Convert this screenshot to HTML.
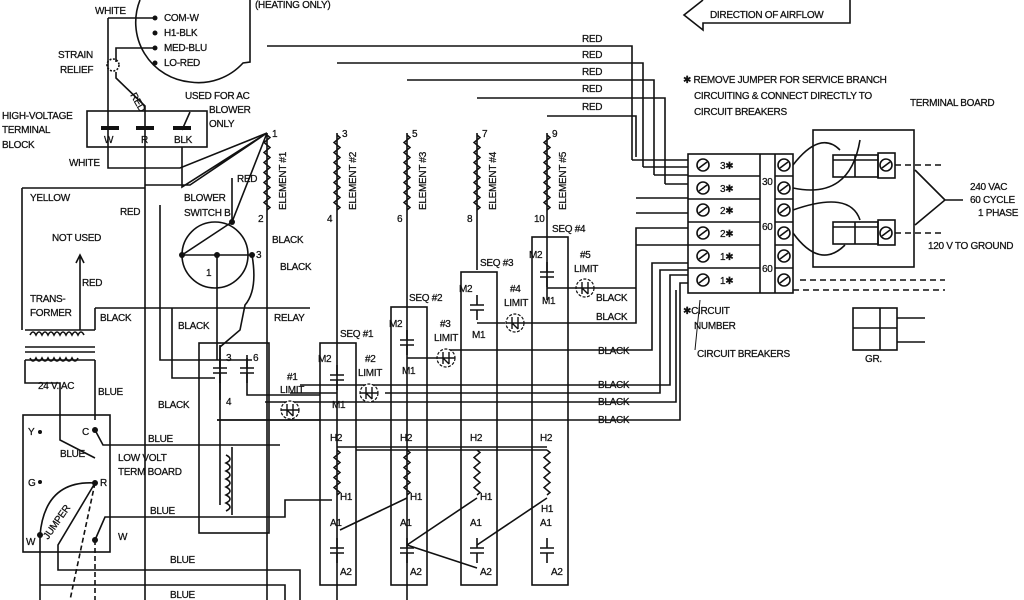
<!DOCTYPE html>
<html><head><meta charset="utf-8"><style>
html,body{margin:0;padding:0;background:#fff;width:1024px;height:600px;overflow:hidden}
svg{display:block}
text{font-family:"Liberation Sans",sans-serif;font-size:10px;fill:#111;letter-spacing:-0.3px;stroke:#111;stroke-width:0.25}
</style></head><body>
<svg width="1024" height="600" viewBox="0 0 1024 600" xmlns="http://www.w3.org/2000/svg">
<defs>
<path id="zz" d="M0 0 l3 2.5 l-6 5 l6 5 l-6 5 l6 5 l-6 5 l6 5 l-6 5 l6 5 l-6 5 l6 5 l-6 5 l6 5 l-6 5 l6 5 l-3 2.5" fill="none" stroke="#111" stroke-width="1.5"/>
<path id="zs" d="M0 0 l3 2.5 l-6 5 l6 5 l-6 5 l6 5 l-6 5 l6 5 l-6 5 l6 5 l-3 2.5" fill="none" stroke="#111" stroke-width="1.5"/>
<g id="lim"><circle r="9" fill="#fff" stroke="#111" stroke-width="1.2" stroke-dasharray="3 1.5"/><path d="M-9 0 h18 M-3 -6 v12 M3 -6 v12 M-3 0 l6 6" stroke="#111" stroke-width="1.4" fill="none"/></g>
<g id="cap"><path d="M-7 0 h14 M-7 5 h14 M0 -10 v10 M0 5 v10" stroke="#111" stroke-width="1.6" fill="none"/></g>
<g id="scr"><circle r="6" fill="#fff" stroke="#111" stroke-width="1.6"/><path d="M-4 3 l8 -6" stroke="#111" stroke-width="1.6"/></g>
</defs>
<g fill="none" stroke="#111" stroke-width="1.6">
<path d="M140 0 A60 60 0 0 0 190 82 A60 60 0 0 0 243 63 L250 62 V0"/>
<path d="M108 18 H155 M108 18 V168 H180 L267 133"/>
<path d="M155 48 H116 V62"/>
<circle cx="113" cy="65" r="6" stroke-dasharray="2 1.5"/>
<path d="M116 72 V78 L145 106 V600"/>
<rect x="87" y="111" width="120" height="36"/>
<path d="M182 147 V187 L267 133 M145 185 H190 L267 133 M182 130 L190 112"/>
<path d="M22 188 H145 M22 188 V330"/>
<path d="M232 222 L267 133 M232 222 V178"/>
<circle cx="215" cy="255" r="33"/>
<path d="M182 255 H252 M217 255 V360 M182 255 L232 222"/>
<path d="M252 255 Q258 290 245 305 L240 330 L220 347 V400"/>
<path d="M267 133 V600"/>
<path d="M160 205 V360 H252 M95 308 H310 M172 308 V378 H215"/>
<path d="M80 255 V330 M76 263 L80 255 L84 263"/>
<path d="M25 330 H95 M25 347 H95 M25 352 H95 M25 360 H95 M25 360 V383 H60 V440 L95 458 M95 360 V420 M95 330 V308"/>
<path d="M30 335 q3 -6 6 0 q3 -6 6 0 q3 -6 6 0 q3 -6 6 0 q3 -6 6 0 q3 -6 6 0 q3 -6 6 0 q3 -6 6 0 q3 -6 6 0"/>
<path d="M30 358 q3 6 6 0 q3 6 6 0 q3 6 6 0 q3 6 6 0 q3 6 6 0 q3 6 6 0 q3 6 6 0 q3 6 6 0"/>
<rect x="23" y="415" width="87" height="137"/>
<path d="M95 430 L103 445 H280 M95 540 L105 517 H285 V500 H332 M40 535 V600 M40 535 Q45 480 95 483 M95 483 L58 545 V570 H300 V600 M40 585 H285 V600"/>
<path d="M95 483 L70 600 M95 540 V600" stroke-dasharray="5 3"/>
<rect x="199" y="343" width="70" height="190"/>
<path d="M220 345 V505 M232 447 V515 M247 355 V395 H320"/>
<path d="M226 455 q8 4 0 8 q8 4 0 8 q8 4 0 8 q8 4 0 8 q8 4 0 8 q8 4 0 8 q8 4 0 8"/>
<path d="M217 420 H320"/>
<path d="M267 46 H632 V160 M337 63 H643 V167 M407 80 H654 V175 M477 98 H665 V184 M547 116 H636 V157"/>
<path d="M337 133 V600 M407 133 V600 M477 133 V270 M547 133 V300"/>
<rect x="320" y="343" width="36" height="242"/>
<rect x="391" y="307" width="36" height="278"/>
<rect x="461" y="272" width="36" height="313"/>
<rect x="532" y="237" width="36" height="348"/>
<path d="M337 393 H290 M407 358 H437 M477 323 H505 M547 288 H577"/>
<path d="M590 288 H636 V228 H688 M520 323 H636 V245 H688 M450 350 H652 V263 H688 M385 393 H660 V270 H688 M300 385 H670 V275 H688 M217 420 H680 V283 H688 M300 402 H676 V290 M356 450 H547 M265 402 H320"/>
<path d="M632 160 H688 M643 167 H688 M654 175 H688 M665 184 H688 M636 198 H688 M636 213 H688"/>
<path d="M337 447 H547 M340 530 L407 498 M407 545 L477 568 M407 545 L477 498 M477 545 L547 498"/>
<rect x="688" y="154" width="105" height="139"/>
<path d="M688 176 H760 M688 199 H760 M688 222 H760 M688 245 H760 M688 268 H760 M760 154 V293 M775 154 V293 M775 176 H793 M775 199 H793 M775 222 H793 M775 245 H793 M775 268 H793"/>
<rect x="813" y="130" width="101" height="137"/>
<rect x="833" y="155" width="45" height="22"/><path d="M833 160 H878 M855 155 V177"/>
<rect x="878" y="153" width="17" height="25"/>
<rect x="833" y="222" width="45" height="22"/><path d="M833 227 H878 M855 222 V244"/>
<rect x="878" y="220" width="17" height="25"/>
<path d="M793 165 Q820 130 840 150 M793 188 Q850 200 860 140 M793 210 Q850 190 860 220 M793 233 Q820 270 845 245"/>
<path d="M895 165 H945 M895 233 H945 M793 290 H945 M800 280 H945" stroke-dasharray="6 4"/>
<path d="M915 170 L945 200 L915 225 M945 200 H963"/>
<rect x="853" y="308" width="44" height="42"/><path d="M853 328 H897 M880 308 V350 M897 318 H925 M897 342 H925"/>
<path d="M700 300 L695 350" stroke-width="1"/>
<path d="M703 0 L684 15 L703 30 V23 H850 V0"/>
</g>
<use href="#zz" x="267" y="135"/><use href="#zz" x="337" y="135"/><use href="#zz" x="407" y="135"/><use href="#zz" x="477" y="135"/><use href="#zz" x="547" y="135"/>
<use href="#zs" x="337" y="450"/><use href="#zs" x="407" y="450"/><use href="#zs" x="477" y="450"/><use href="#zs" x="547" y="450"/>
<use href="#lim" x="290" y="410"/><use href="#lim" x="369" y="393"/><use href="#lim" x="446" y="358"/><use href="#lim" x="515" y="323"/><use href="#lim" x="585" y="288"/>
<use href="#cap" x="337" y="375"/><use href="#cap" x="407" y="340"/><use href="#cap" x="477" y="305"/><use href="#cap" x="547" y="272"/>
<use href="#cap" x="337" y="548"/><use href="#cap" x="407" y="548"/><use href="#cap" x="477" y="548"/><use href="#cap" x="547" y="548"/>
<use href="#cap" x="220" y="368"/><use href="#cap" x="247" y="368"/>
<use href="#scr" x="703" y="165"/><use href="#scr" x="703" y="188"/><use href="#scr" x="703" y="210"/><use href="#scr" x="703" y="233"/><use href="#scr" x="703" y="256"/><use href="#scr" x="703" y="280"/>
<use href="#scr" x="784" y="165"/><use href="#scr" x="784" y="188"/><use href="#scr" x="784" y="210"/><use href="#scr" x="784" y="233"/><use href="#scr" x="784" y="256"/><use href="#scr" x="784" y="280"/>
<use href="#scr" x="886" y="165"/><use href="#scr" x="886" y="233"/>
<g fill="#111"><circle cx="155" cy="18" r="2.5"/><circle cx="155" cy="33" r="2.5"/><circle cx="155" cy="48" r="2.5"/><circle cx="155" cy="63" r="2.5"/><circle cx="232" cy="222" r="3"/><circle cx="182" cy="255" r="3"/><circle cx="217" cy="255" r="3"/><circle cx="252" cy="255" r="3"/><circle cx="95" cy="430" r="3"/><circle cx="95" cy="483" r="3"/><circle cx="95" cy="540" r="3"/><circle cx="40" cy="535" r="3"/><circle cx="40" cy="432" r="2"/><circle cx="40" cy="482" r="2"/>
<rect x="101" y="126" width="18" height="4"/><rect x="136" y="126" width="18" height="4"/><rect x="173" y="126" width="18" height="4"/></g>
<text x="95" y="14">WHITE</text><text x="164" y="21">COM-W</text><text x="164" y="36">H1-BLK</text><text x="164" y="51">MED-BLU</text><text x="164" y="66">LO-RED</text>
<text x="255" y="8">(HEATING ONLY)</text>
<text x="58" y="58">STRAIN</text><text x="60" y="73">RELIEF</text><text x="130" y="95" transform="rotate(60 130 95)">RED</text>
<text x="2" y="119">HIGH-VOLTAGE</text><text x="2" y="133">TERMINAL</text><text x="2" y="148">BLOCK</text>
<text x="104" y="143">W</text><text x="141" y="143">R</text><text x="174" y="143">BLK</text>
<text x="185" y="99">USED FOR AC</text><text x="209" y="113">BLOWER</text><text x="209" y="127">ONLY</text>
<text x="69" y="166">WHITE</text><text x="30" y="201">YELLOW</text><text x="120" y="215">RED</text>
<text x="52" y="241">NOT USED</text><text x="82" y="286">RED</text><text x="237" y="182">RED</text>
<text x="184" y="201">BLOWER</text><text x="184" y="216">SWITCH B</text><text x="256" y="258">3</text><text x="206" y="276">1</text>
<text x="272" y="243">BLACK</text><text x="280" y="270">BLACK</text>
<text x="30" y="302">TRANS-</text><text x="30" y="316">FORMER</text><text x="100" y="321">BLACK</text>
<text x="178" y="329">BLACK</text><text x="274" y="321">RELAY</text><text x="158" y="408">BLACK</text>
<text x="38" y="389">24 V. AC</text><text x="98" y="395">BLUE</text>
<text x="28" y="435">Y</text><text x="82" y="435">C</text><text x="28" y="486">G</text><text x="100" y="486">R</text><text x="26" y="545">W</text><text x="118" y="540">W</text>
<text x="60" y="457">BLUE</text><text x="148" y="442">BLUE</text><text x="118" y="461">LOW VOLT</text><text x="118" y="475">TERM BOARD</text>
<text x="150" y="514">BLUE</text><text x="170" y="563">BLUE</text><text x="170" y="598">BLUE</text>
<text x="48" y="540" transform="rotate(-55 48 540)">JUMPER</text>
<text x="226" y="361">3</text><text x="253" y="361">6</text><text x="226" y="405">4</text>
<text x="287" y="380">#1</text><text x="280" y="393">LIMIT</text><text x="365" y="362">#2</text><text x="358" y="376">LIMIT</text>
<text x="440" y="327">#3</text><text x="434" y="341">LIMIT</text><text x="510" y="292">#4</text><text x="504" y="306">LIMIT</text>
<text x="580" y="258">#5</text><text x="574" y="272">LIMIT</text>
<text x="340" y="337">SEQ #1</text><text x="409" y="301">SEQ #2</text><text x="480" y="266">SEQ #3</text><text x="552" y="232">SEQ #4</text>
<text x="318" y="362">M2</text><text x="389" y="327">M2</text><text x="459" y="292">M2</text><text x="529" y="258">M2</text>
<text x="332" y="408">M1</text><text x="402" y="374">M1</text><text x="472" y="338">M1</text><text x="542" y="304">M1</text>
<text x="272" y="137">1</text><text x="258" y="222">2</text><text x="342" y="137">3</text><text x="327" y="222">4</text><text x="412" y="137">5</text><text x="397" y="222">6</text><text x="482" y="137">7</text><text x="467" y="222">8</text><text x="552" y="137">9</text><text x="534" y="222">10</text>
<text transform="translate(286 210) rotate(-90)">ELEMENT #1</text><text transform="translate(356 210) rotate(-90)">ELEMENT #2</text><text transform="translate(426 210) rotate(-90)">ELEMENT #3</text><text transform="translate(496 210) rotate(-90)">ELEMENT #4</text><text transform="translate(566 210) rotate(-90)">ELEMENT #5</text>
<text x="582" y="42">RED</text><text x="582" y="58">RED</text><text x="582" y="75">RED</text><text x="582" y="92">RED</text><text x="582" y="110">RED</text>
<text x="596" y="301">BLACK</text><text x="596" y="320">BLACK</text><text x="598" y="354">BLACK</text><text x="598" y="388">BLACK</text><text x="598" y="405">BLACK</text><text x="598" y="423">BLACK</text>
<text x="330" y="441">H2</text><text x="400" y="441">H2</text><text x="470" y="441">H2</text><text x="540" y="441">H2</text>
<text x="340" y="500">H1</text><text x="410" y="500">H1</text><text x="480" y="500">H1</text><text x="541" y="512">H1</text>
<text x="330" y="526">A1</text><text x="400" y="526">A1</text><text x="470" y="526">A1</text><text x="540" y="526">A1</text>
<text x="340" y="575">A2</text><text x="410" y="575">A2</text><text x="480" y="575">A2</text><text x="551" y="575">A2</text>
<text x="710" y="18">DIRECTION OF AIRFLOW</text>
<text x="683" y="83">✱ REMOVE JUMPER FOR SERVICE BRANCH</text><text x="694" y="99">CIRCUITING &amp; CONNECT DIRECTLY TO</text><text x="694" y="115">CIRCUIT BREAKERS</text>
<text x="910" y="106">TERMINAL BOARD</text>
<text x="720" y="169">3✱</text><text x="720" y="192">3✱</text><text x="720" y="214">2✱</text><text x="720" y="237">2✱</text><text x="720" y="260">1✱</text><text x="720" y="284">1✱</text>
<text x="762" y="185">30</text><text x="762" y="230">60</text><text x="762" y="272">60</text>
<text x="970" y="190">240 VAC</text><text x="970" y="203">60 CYCLE</text><text x="978" y="216">1 PHASE</text><text x="928" y="249">120 V TO GROUND</text>
<text x="683" y="314">✱CIRCUIT</text><text x="694" y="329">NUMBER</text><text x="697" y="357">CIRCUIT BREAKERS</text><text x="865" y="362">GR.</text>
</svg>
</body></html>
